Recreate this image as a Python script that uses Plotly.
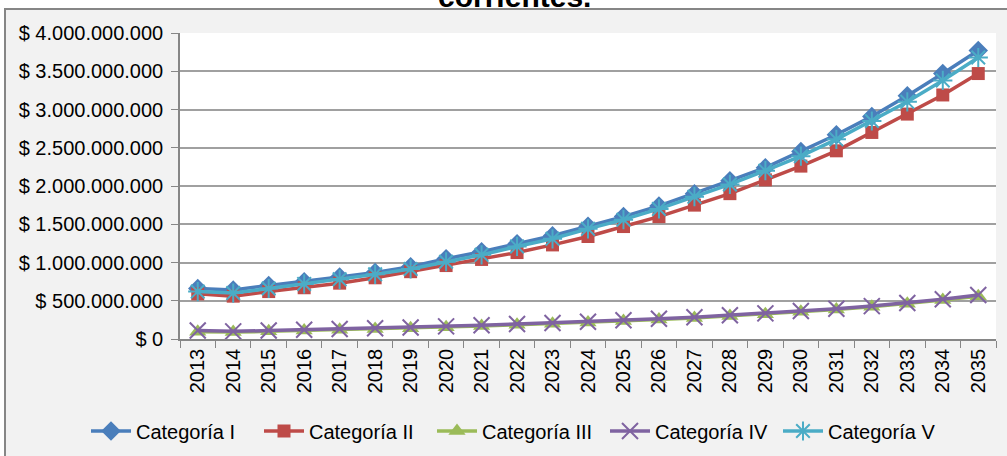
import plotly.graph_objects as go

years = [str(y) for y in range(2013, 2036)]

cat_i = [0.66, 0.64, 0.70, 0.75, 0.81, 0.87, 0.945, 1.05, 1.14, 1.245, 1.35, 1.475,
         1.60, 1.74, 1.90, 2.07, 2.24, 2.45, 2.67, 2.91, 3.18, 3.47, 3.77]
cat_ii = [0.59, 0.56, 0.62, 0.67, 0.73, 0.80, 0.88, 0.96, 1.04, 1.13, 1.23, 1.34,
          1.47, 1.60, 1.75, 1.90, 2.08, 2.26, 2.46, 2.70, 2.94, 3.19, 3.47]
cat_iii = [0.095, 0.09, 0.10, 0.11, 0.12, 0.13, 0.14, 0.155, 0.17, 0.185, 0.20, 0.215,
           0.235, 0.255, 0.275, 0.30, 0.325, 0.355, 0.385, 0.42, 0.46, 0.51, 0.56]
cat_iv = [0.11, 0.10, 0.11, 0.12, 0.13, 0.14, 0.15, 0.165, 0.18, 0.195, 0.21, 0.225,
          0.245, 0.265, 0.285, 0.31, 0.335, 0.365, 0.395, 0.43, 0.47, 0.52, 0.575]
cat_v = [0.62, 0.60, 0.66, 0.72, 0.78, 0.845, 0.915, 1.01, 1.10, 1.21, 1.31, 1.44,
         1.56, 1.70, 1.86, 2.02, 2.20, 2.39, 2.61, 2.85, 3.10, 3.38, 3.68]

tick_vals = [0, 0.5e9, 1e9, 1.5e9, 2e9, 2.5e9, 3e9, 3.5e9, 4e9]
tick_text = ["$ 0", "$ 500.000.000", "$ 1.000.000.000", "$ 1.500.000.000",
             "$ 2.000.000.000", "$ 2.500.000.000", "$ 3.000.000.000",
             "$ 3.500.000.000", "$ 4.000.000.000"]

series = [
    ("Categoría I", cat_i, "#4a7ebb", "diamond", 15, 0),
    ("Categoría II", cat_ii, "#be4b48", "square", 13, 0),
    ("Categoría III", cat_iii, "#9bbb59", "triangle-up", 15, 0),
    ("Categoría IV", cat_iv, "#7f63a1", "x-thin-open", 16, 2),
    ("Categoría V", cat_v, "#4bacc6", "asterisk-open", 16, 2),
]

FONT = "Liberation Sans, Arial, sans-serif"
FS = 20
W, H = 1007, 456
L, R, T, B = 180, 11, 33, 117
pw, ph = W - L - R, H - T - B

def px(x):
    return (x - L) / pw

def py(y):
    return (H - B - y) / ph

fig = go.Figure()
for name, vals, color, sym, size, lw in series:
    marker = dict(symbol=sym, size=size, color=color)
    if lw:
        marker["line"] = dict(color=color, width=lw)
    fig.add_trace(go.Scatter(
        x=years, y=[v * 1e9 for v in vals], name=name, mode="lines+markers",
        line=dict(color=color, width=3.5), marker=marker,
    ))

fig.add_shape(type="rect", xref="paper", yref="paper",
              x0=px(5), x1=px(1015), y0=py(470), y1=py(9),
              fillcolor="#f2f2f2", line=dict(color="#868686", width=2), layer="below")
fig.add_shape(type="rect", xref="paper", yref="paper",
              x0=0, x1=1, y0=0, y1=1,
              fillcolor="white", line=dict(width=0), layer="below")

fig.add_annotation(text="<b>corrientes.</b>", xref="paper", yref="paper",
                   x=px(514), y=py(15), xanchor="center", yanchor="bottom",
                   showarrow=False, font=dict(family=FONT, size=30, color="black"))

fig.update_layout(
    width=W, height=H,
    margin=dict(l=L, r=R, t=T, b=B, pad=0, autoexpand=False),
    paper_bgcolor="white", plot_bgcolor="white",
    font=dict(family=FONT, size=FS, color="black"),
    showlegend=True,
    legend=dict(orientation="h", x=px(86), xanchor="left", y=py(431), yanchor="middle",
                bgcolor="rgba(0,0,0,0)", font=dict(family=FONT, size=FS, color="black"),
                itemwidth=40, tracegroupgap=0, entrywidth=118, entrywidthmode="pixels"),
)
fig.update_xaxes(type="category", range=[-0.5, 22.5], tickangle=-90, showgrid=False,
                 showline=True, linecolor="#868686", linewidth=1.5, ticks="outside",
                 ticklen=7, tickcolor="#868686", tickson="boundaries",
                 tickfont=dict(family=FONT, size=FS, color="black"))
fig.update_yaxes(range=[0, 4e9], tickvals=tick_vals, ticktext=tick_text,
                 showgrid=True, gridcolor="#a0a0a0", gridwidth=1.5,
                 showline=True, linecolor="#868686", linewidth=1.5,
                 ticks="outside", ticklen=7, tickcolor="#868686",
                 ticklabelstandoff=4, zeroline=False,
                 tickfont=dict(family=FONT, size=FS, color="black"))

fig.write_html("out.html", config={"displayModeBar": False},
               post_script="document.body.style.margin='0';")
